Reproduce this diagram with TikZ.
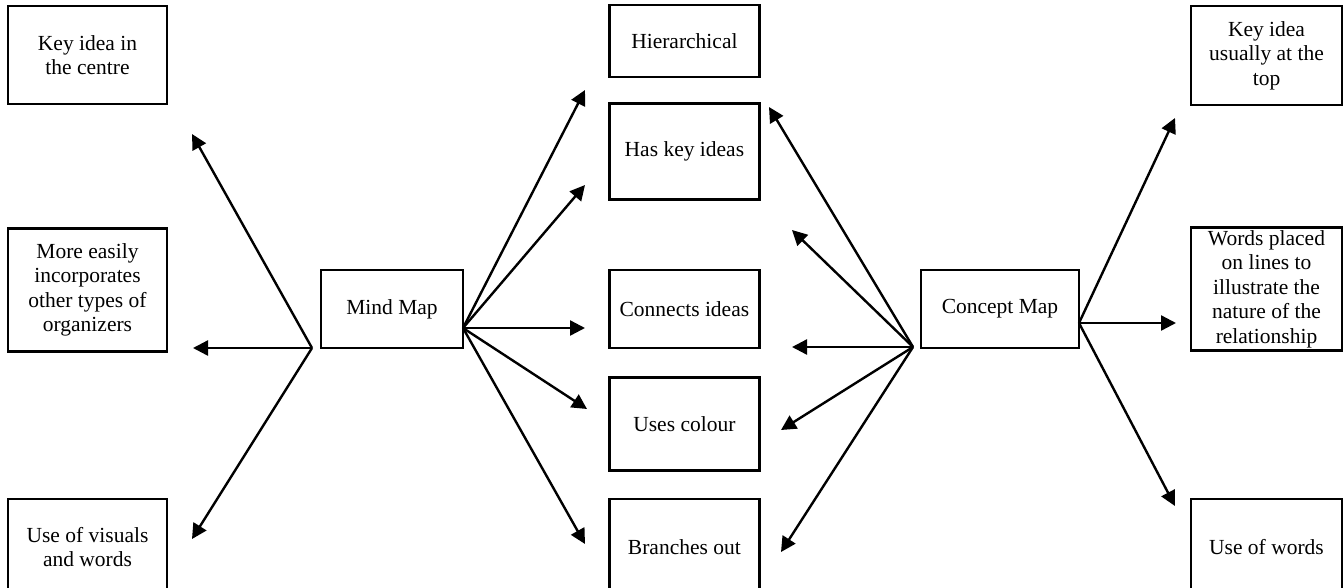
\documentclass[tikz,border=0pt]{standalone}
\usepackage{fontspec}
\setmainfont{Liberation Serif}
\usepackage{tikz}
\usetikzlibrary{positioning, arrows.meta}

\begin{document}
\begin{tikzpicture}[x=1pt, y=-1pt, >={Triangle[length=15pt,width=15pt]},
    box/.style={draw, line width=2.4pt, align=center, inner sep=0pt,
        font=\fontsize{21.5}{24.5}\selectfont},
    link/.style={->, line width=2.4pt}]
    \useasboundingbox (0,0) rectangle (1344,587);
    \clip (0,0) rectangle (1344,587);

    %left column
    \node (keyc) [box, minimum width=159pt, minimum height=98pt] at (87.5,55) {Key idea in\\the centre};
    \node (incorp) [box, minimum width=159pt, minimum height=123pt, below=122pt of keyc] {More easily\\incorporates\\other types of\\organizers};
    \node (visual) [box, minimum width=159pt, minimum height=96pt, below=145pt of incorp] {Use of visuals\\and words};

    %middle
    \node (mind) [box, minimum width=142pt, minimum height=78pt] at (392,309) {Mind Map};
    \node (connect) [box, minimum width=150pt, minimum height=78pt, right=144pt of mind] {Connects ideas};
    \node (haskey) [box, minimum width=150pt, minimum height=96pt, above=68pt of connect] {Has key ideas};
    \node (hier) [box, minimum width=150pt, minimum height=72pt, above=24pt of haskey] {Hierarchical};
    \node (colour) [box, minimum width=150pt, minimum height=93pt, below=27pt of connect] {Uses colour};
    \node (branch) [box, minimum width=150pt, minimum height=96pt, below=26pt of colour] {Branches out};
    \node (concept) [box, minimum width=158pt, minimum height=78pt] at (1000,309) {Concept Map};

    %right column
    \node (keytop) [box, minimum width=151pt, minimum height=99pt] at (1266.5,55.5) {Key idea\\usually at the\\top};
    \node (words) [box, minimum width=151pt, minimum height=123pt, below=120pt of keytop] {Words placed\\on lines to\\illustrate the\\nature of the\\relationship};
    \node (usewords) [box, minimum width=151pt, minimum height=96pt, below=146pt of words] {Use of words};

    %hubs and arrow ends
    \coordinate (mindL) at (312,348);
    \coordinate (mindR) at (463,328);
    \coordinate (cptL) at (913,347);
    \coordinate (cptR) at (1079,323);
    \coordinate (toKeyc) at (192,134);
    \coordinate (toIncorp) at (193,348);
    \coordinate (toVisual) at (192,539);
    \coordinate (toHier) at (585,90);
    \coordinate (toHasKey) at (585,185);
    \coordinate (toConnect) at (585,328);
    \coordinate (toColour) at (587,409);
    \coordinate (toBranch) at (585,544);
    \coordinate (cHasKey) at (769,107);
    \coordinate (cUpper) at (792,230);
    \coordinate (cConnect) at (792,347);
    \coordinate (cColour) at (781,430);
    \coordinate (cBranch) at (781,552);
    \coordinate (toKeytop) at (1175,118);
    \coordinate (toWords) at (1176,323);
    \coordinate (toUsewords) at (1175,506);

    \draw[link] (mindL) -- (toKeyc);
    \draw[link] (mindL) -- (toIncorp);
    \draw[link] (mindL) -- (toVisual);

    \draw[link] (mindR) -- (toHier);
    \draw[link] (mindR) -- (toHasKey);
    \draw[link] (mindR) -- (toConnect);
    \draw[link] (mindR) -- (toColour);
    \draw[link] (mindR) -- (toBranch);

    \draw[link] (cptL) -- (cHasKey);
    \draw[link] (cptL) -- (cUpper);
    \draw[link] (cptL) -- (cConnect);
    \draw[link] (cptL) -- (cColour);
    \draw[link] (cptL) -- (cBranch);

    \draw[link] (cptR) -- (toKeytop);
    \draw[link] (cptR) -- (toWords);
    \draw[link] (cptR) -- (toUsewords);
\end{tikzpicture}
\end{document}
